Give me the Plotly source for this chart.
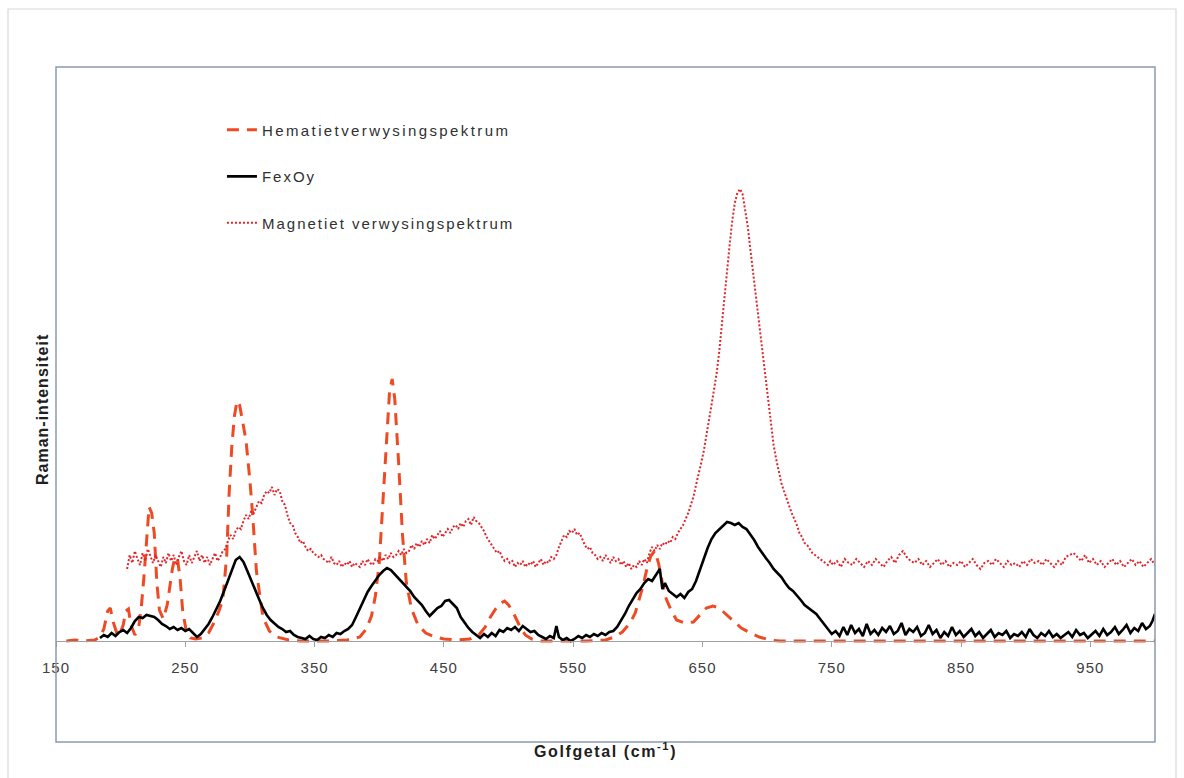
import plotly.graph_objects as go

# ---------------- data ----------------
hem_x = [158, 165, 172, 180, 184, 187, 190, 192, 194, 197, 199, 202, 204, 206, 208, 211, 214, 216, 218, 220,
         222, 224, 226, 228, 230, 233, 236, 238, 240, 242, 244, 246, 248, 251, 254, 258, 263, 268, 272, 276,
         279, 282, 284, 286, 288, 290, 292, 294, 297, 300, 302, 305, 308, 310, 315, 321, 330, 340, 360, 375,
         385, 390, 394, 397, 400, 403, 406, 408, 410, 412, 415, 418, 421, 425, 430, 436, 443, 450, 460, 470,
         477, 482, 486, 490, 494, 497, 500, 503, 506, 509, 513, 518, 525, 560, 575, 582, 588, 594, 598, 601,
         604, 607, 610, 613, 616, 619, 622, 626, 630, 636, 643, 648, 653, 658, 663, 668, 673, 680, 687, 694,
         702, 710, 800, 900, 1000]
hem_y = [0, 1, 0, 1, 4, 12, 30, 33, 20, 8, 6, 16, 30, 32, 16, 6, 14, 34, 64, 105,
         134, 128, 108, 58, 31, 22, 36, 54, 72, 84, 82, 62, 30, 8, 3, 2, 3, 8, 18, 30,
         41, 85, 150, 195, 225, 240, 236, 222, 200, 160, 128, 70, 40, 24, 10, 4, 1, 0, 0, 1,
         4, 12, 25, 45, 78, 140, 210, 250, 262, 242, 178, 106, 58, 32, 16, 8, 4, 2, 1, 2,
         6, 14, 24, 32, 38, 40, 36, 30, 22, 14, 6, 2, 0, 0, 1, 4, 9, 18, 28, 41,
         55, 72, 85, 90, 78, 58, 42, 30, 21, 18, 19, 26, 33, 35, 33, 27, 21, 13, 8, 4,
         1, 0, 0, 0, 0]

fex_x = [184, 187, 190, 193, 196, 199, 202, 205, 208, 211, 214, 217, 220, 223, 226, 229, 232, 235, 238, 241,
         244, 247, 250, 253, 256, 259, 262, 265, 268, 271, 274, 277, 280, 283, 286, 289, 292, 295, 298, 301,
         304, 307, 310, 313, 316, 319, 322, 325, 328, 331, 334, 337, 340, 343, 346, 349, 352, 355, 358, 361,
         364, 367, 370, 373, 376, 379, 382, 385, 388, 391, 394, 397, 400, 403, 406, 409, 412, 415, 418, 421,
         424, 427, 430, 433, 436, 439, 442, 445, 448, 451, 454, 457, 460, 463, 466, 469, 472, 475, 478, 481,
         484, 487, 490, 493, 496, 499, 502, 505, 508, 511, 514, 517, 520, 523, 526, 529, 532, 535, 537, 539,
         542, 545, 548, 551, 554, 557, 560, 563, 566, 569, 572, 575, 578, 581, 584, 587, 590, 593, 596, 599,
         602, 605, 608, 611, 614, 617, 619, 621, 624, 627, 630, 633, 636, 639, 642, 645, 648, 651, 654, 657,
         660, 663, 666, 669, 672, 675, 678, 681, 684, 687, 690, 693, 696, 699, 702, 705, 708, 711, 714, 717,
         720, 723, 726, 729, 732, 735, 738, 741, 744, 747, 750, 753, 756, 759, 762, 765, 768, 771, 774, 777,
         780, 783, 786, 789, 792, 795, 798, 801, 804, 807, 810, 813, 816, 819, 822, 825, 828, 831, 834, 837,
         840, 843, 846, 849, 852, 855, 858, 861, 864, 867, 870, 873, 876, 879, 882, 885, 888, 891, 894, 897,
         900, 903, 906, 909, 912, 915, 918, 921, 924, 927, 930, 933, 936, 939, 942, 945, 948, 951, 954, 957,
         960, 963, 966, 969, 972, 975, 978, 981, 984, 987, 990, 993, 996, 998, 1000]
fex_y = [3, 6, 4, 8, 5, 9, 11, 8, 13, 20, 24, 23, 26, 25, 24, 21, 17, 15, 12, 14,
         11, 13, 10, 12, 8, 4, 7, 12, 17, 24, 32, 40, 50, 60, 71, 81, 84, 79, 70, 60,
         50, 42, 33, 26, 21, 17, 14, 12, 9, 10, 6, 4, 3, 2, 5, 2, 1, 4, 3, 6,
         4, 8, 7, 10, 12, 16, 24, 32, 41, 49, 55, 61, 66, 70, 73, 71, 67, 63, 58, 55,
         50, 44, 40, 36, 30, 25, 29, 33, 35, 40, 41, 37, 33, 24, 18, 13, 9, 6, 3, 7,
         4, 8, 5, 11, 9, 13, 11, 14, 10, 15, 12, 9, 10, 6, 4, 2, 5, 3, 15, 4,
         1, 3, 0, 2, 5, 3, 6, 4, 7, 5, 8, 6, 9, 10, 14, 20, 27, 35, 42, 48,
         52, 58, 62, 60, 66, 72, 52, 58, 50, 47, 44, 47, 43, 49, 52, 60, 70, 82, 93, 102,
         108, 112, 116, 119, 118, 116, 118, 114, 112, 107, 101, 94, 88, 83, 78, 72, 68, 64, 58, 53,
         50, 46, 41, 36, 33, 30, 27, 22, 17, 12, 7, 10, 5, 14, 6, 16, 8, 12, 5, 17,
         7, 11, 6, 13, 9, 15, 7, 10, 18, 6, 12, 9, 14, 5, 8, 16, 7, 11, 3, 9,
         5, 14, 6, 10, 4, 8, 12, 5, 9, 3, 7, 11, 4, 8, 6, 10, 3, 7, 5, 9,
         4, 12, 6, 3, 8, 5, 10, 4, 7, 3, 6, 9, 4, 11, 6, 8, 3, 7, 10, 5,
         12, 6, 9, 14, 7, 11, 16, 8, 13, 10, 18, 12, 15, 20, 27]

mag_x = [205, 207, 209, 211, 213, 215, 217, 219, 221, 223, 225, 227, 229, 231, 233, 235, 237, 239, 241, 243,
         245, 247, 249, 251, 253, 255, 257, 259, 261, 263, 265, 267, 269, 271, 273, 275, 277, 279, 281, 283,
         285, 287, 289, 291, 293, 295, 297, 299, 301, 303, 305, 307, 309, 311, 313, 315, 317, 319, 321, 323,
         325, 327, 329, 331, 333, 335, 337, 339, 341, 343, 345, 347, 349, 351, 353, 355, 357, 359, 361, 363,
         365, 367, 369, 371, 373, 375, 377, 379, 381, 383, 385, 387, 389, 391, 393, 395, 397, 399, 401, 403,
         405, 407, 409, 411, 413, 415, 417, 419, 421, 423, 425, 427, 429, 431, 433, 435, 437, 439, 441, 443,
         445, 447, 449, 451, 453, 455, 457, 459, 461, 463, 465, 467, 469, 471, 473, 475, 477, 479, 481, 483,
         485, 487, 489, 491, 493, 495, 497, 499, 501, 503, 505, 507, 509, 511, 513, 515, 517, 519, 521, 523,
         525, 527, 529, 531, 533, 535, 537, 539, 541, 543, 545, 547, 549, 551, 553, 555, 557, 559, 561, 563,
         565, 567, 569, 571, 573, 575, 577, 579, 581, 583, 585, 587, 589, 591, 593, 595, 597, 599, 601, 603,
         605, 607, 609, 611, 613, 615, 617, 619, 621, 623, 625, 627, 629, 631, 633, 635, 637, 639, 641, 643,
         645, 647, 649, 651, 653, 655, 657, 659, 661, 663, 665, 667, 669, 671, 673, 675, 677, 679, 681, 683,
         685, 687, 689, 691, 693, 695, 697, 699, 701, 703, 705, 707, 709, 711, 713, 715, 717, 719, 721, 723,
         725, 727, 729, 731, 733, 735, 737, 739, 741, 743, 745, 747, 749, 751, 754, 757, 760, 763, 766, 769,
         772, 775, 778, 781, 784, 787, 790, 793, 796, 799, 802, 805, 808, 811, 814, 817, 820, 823, 826, 829,
         832, 835, 838, 841, 844, 847, 850, 853, 856, 859, 862, 865, 868, 871, 874, 877, 880, 883, 886, 889,
         892, 895, 898, 901, 904, 907, 910, 913, 916, 919, 922, 925, 928, 931, 934, 937, 940, 943, 946, 949,
         952, 955, 958, 961, 964, 967, 970, 973, 976, 979, 982, 985, 988, 991, 994, 997, 1000]
mag_y = [72, 86, 78, 90, 82, 76, 88, 80, 92, 84, 78, 86, 80, 74, 84, 78, 88, 80, 86, 76,
         84, 90, 80, 76, 86, 78, 84, 90, 80, 86, 78, 84, 76, 82, 88, 80, 84, 90, 92, 100,
         106, 102, 110, 114, 112, 120, 126, 122, 130, 128, 134, 140, 138, 146, 150, 148, 154, 146, 152, 150,
         140, 136, 126, 118, 116, 108, 104, 98, 100, 94, 90, 92, 88, 86, 84, 86, 82, 80, 78, 84,
         78, 76, 80, 74, 78, 76, 80, 74, 78, 76, 74, 80, 76, 82, 78, 76, 82, 80, 84, 80,
         86, 82, 88, 84, 86, 90, 86, 92, 88, 90, 96, 92, 98, 94, 100, 96, 102, 98, 106, 102,
         106, 110, 104, 108, 112, 108, 114, 116, 112, 118, 114, 120, 122, 116, 124, 120, 118, 114, 110, 104,
         100, 96, 92, 88, 90, 84, 80, 82, 78, 80, 74, 78, 76, 80, 74, 78, 76, 80, 74, 78,
         82, 76, 80, 78, 84, 82, 86, 94, 100, 106, 104, 110, 108, 112, 106, 108, 102, 96, 92, 94,
         88, 86, 82, 84, 80, 86, 82, 78, 84, 80, 82, 76, 80, 74, 78, 72, 76, 74, 80, 76,
         82, 78, 88, 94, 90, 96, 92, 98, 96, 100, 98, 104, 102, 108, 112, 116, 122, 128, 136, 144,
         156, 166, 178, 190, 204, 220, 236, 252, 268, 290, 318, 344, 370, 396, 420, 438, 448, 452, 447, 432,
         415, 392, 370, 348, 330, 306, 284, 262, 236, 214, 196, 182, 168, 158, 150, 142, 134, 128, 122, 116,
         108, 104, 98, 96, 92, 88, 86, 84, 82, 80, 78, 76, 80, 76, 80, 74, 82, 78, 76, 82,
         78, 74, 80, 76, 82, 78, 74, 80, 84, 78, 86, 90, 84, 80, 78, 82, 76, 80, 74, 78,
         82, 76, 80, 74, 78, 76, 80, 74, 78, 82, 76, 72, 78, 80, 76, 82, 78, 74, 80, 76,
         78, 74, 80, 76, 82, 78, 80, 76, 82, 78, 74, 80, 76, 84, 86, 88, 84, 80, 86, 78,
         82, 76, 80, 74, 78, 82, 76, 80, 74, 78, 82, 76, 80, 74, 78, 82, 76]

x_ticks = [150, 250, 350, 450, 550, 650, 750, 850, 950]

names = ["Hematietverwysingspektrum", "FexOy", "Magnetiet verwysingspektrum"]
x_title = "Golfgetal (cm<sup>-1</sup>)"
y_title = "Raman-intensiteit"

# ---------------- figure ----------------
W, H = 1184, 778
ML, MR, MT, MB = 56, 29, 67, 36
y_min, y_max = -101, 574
x_min, x_max = 150, 1000
ph = H - MT - MB
pw = W - ML - MR
zero_pos = (0 - y_min) / (y_max - y_min)


def spaced(t, ls):
    return '<span style="letter-spacing:%spx">%s</span>' % (ls, t)


fig = go.Figure()
fig.add_trace(go.Scatter(x=hem_x, y=hem_y, mode="lines", name=spaced(names[0], 2.4), legendgroup="a",
                         line=dict(color="#EE4B24", width=3, dash="12px,8px")))
fig.add_trace(go.Scatter(x=fex_x, y=fex_y, mode="lines", name=spaced(names[1], 2.0), legendgroup="b",
                         line=dict(color="#000000", width=2.6)))
fig.add_trace(go.Scatter(x=mag_x, y=mag_y, mode="lines", name=spaced(names[2], 2.0), legendgroup="c",
                         line=dict(color="#E2252B", width=2, dash="2px,2px")))

font_family = "Arial, Liberation Sans, sans-serif"

fig.update_layout(
    width=W, height=H,
    margin=dict(l=ML, r=MR, t=MT, b=MB),
    paper_bgcolor="white", plot_bgcolor="white",
    font=dict(family=font_family, size=15, color="#404040"),
    showlegend=True,
    legend=dict(x=0.151, y=0.931, xanchor="left", yanchor="top",
                bgcolor="rgba(0,0,0,0)", borderwidth=0,
                tracegroupgap=24, font=dict(size=15, color="#303030")),
    xaxis=dict(range=[x_min, x_max], tickvals=x_ticks,
               ticktext=[spaced(str(v), 1) for v in x_ticks],
               showgrid=False, zeroline=False, showline=True, linecolor="#A0A0A0", linewidth=1.2,
               ticks="outside", ticklen=5, tickcolor="#A0A0A0",
               anchor="free", position=zero_pos, ticklabelstandoff=8,
               tickfont=dict(size=15, color="#404040")),
    yaxis=dict(range=[y_min, y_max], showgrid=False, zeroline=False, showline=False,
               showticklabels=False, ticks=""),
    shapes=[
        dict(type="rect", xref="paper", yref="paper", x0=0, x1=1, y0=0, y1=1,
             line=dict(color="#8A9AB2", width=1.5), layer="above"),
        dict(type="rect", xref="paper", yref="paper",
             x0=(8 - ML) / pw, x1=(1176 - ML) / pw,
             y0=-(H + 10 - (H - MB)) / ph, y1=((H - MB) - 9) / ph,
             line=dict(color="#D8D8D8", width=1.2), layer="below"),
    ],
    annotations=[
        dict(text="<b>" + spaced(x_title, 1.6) + "</b>", xref="paper", yref="paper",
             x=0.5, y=-(750 - (H - MB)) / ph, xanchor="center", yanchor="middle",
             showarrow=False, font=dict(size=16, color="#202020")),
        dict(text="<b>" + spaced(y_title, 1) + "</b>", xref="paper", yref="paper",
             x=-(ML - 42) / pw, y=((H - MB) - 410) / ph, xanchor="center", yanchor="middle",
             textangle=-90, showarrow=False, font=dict(size=16, color="#202020")),
    ],
)

fig.write_html("out.html")
